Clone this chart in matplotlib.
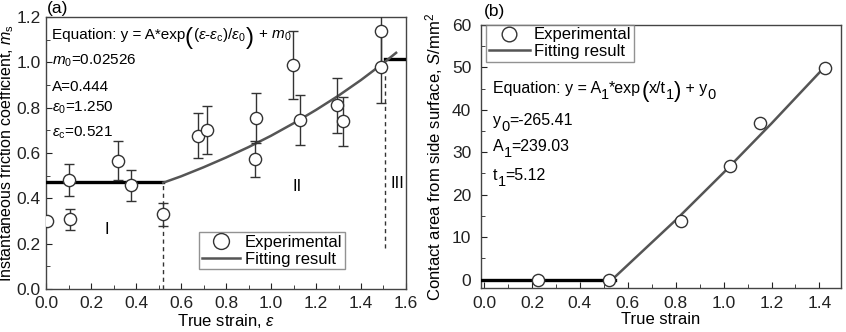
import matplotlib
matplotlib.use("Agg")
import matplotlib.pyplot as plt
from matplotlib.ticker import MultipleLocator

plt.rcParams['font.family'] = ['Liberation Sans', 'DejaVu Sans']
plt.rcParams['mathtext.fontset'] = 'custom'
plt.rcParams['mathtext.rm'] = 'Liberation Sans'
plt.rcParams['mathtext.it'] = 'Liberation Sans:italic'
plt.rcParams['mathtext.bf'] = 'Liberation Sans:bold'

# ---- panel (a) data: instantaneous friction coefficient ----
strain_a = [0.003, 0.104, 0.107, 0.321, 0.378, 0.519, 0.676, 0.717, 0.929, 0.932,
            1.096, 1.129, 1.292, 1.321, 1.49, 1.49]
ms_a = [0.302, 0.481, 0.307, 0.566, 0.458, 0.329, 0.677, 0.702, 0.573, 0.756,
        0.988, 0.744, 0.81, 0.739, 1.14, 0.98]
err_a = [0.0, 0.072, 0.046, 0.085, 0.069, 0.052, 0.1, 0.105, 0.08, 0.11,
         0.15, 0.11, 0.12, 0.11, 0.16, 0.16]

# fitted curve
fit_x_a = [0.521, 0.6, 0.7, 0.8, 0.9, 1.0, 1.1, 1.2, 1.3, 1.4, 1.5, 1.556]
fit_y_a = [0.469, 0.497, 0.537, 0.580, 0.626, 0.676, 0.731, 0.790, 0.853, 0.922, 0.997, 1.042]
stage1_x = [0.0, 0.521]
stage1_y = [0.47, 0.47]
stage3_x = [1.507, 1.6]
stage3_y = [1.013, 1.013]

# ---- panel (b) data: contact area from side surface ----
strain_b = [0.225, 0.52, 0.823, 1.025, 1.153, 1.422]
area_b = [0.0, 0.0, 13.7, 26.7, 37.0, 49.8]
fit_x_b = [0.535, 0.8, 1.0, 1.2, 1.42]
fit_y_b = [0.0, 14.0, 25.2, 36.8, 50.0]
flat_x_b = [-0.02, 0.545]
flat_y_b = [0.0, 0.0]

edge = '#333333'
fitc = '#555555'
fs = 12

fig = plt.figure(figsize=(8.46, 3.32), dpi=100)
ax1 = fig.add_axes([0.0544, 0.1295, 0.4255, 0.8193])
ax2 = fig.add_axes([0.5686, 0.1325, 0.4255, 0.7922])
renderer = fig.canvas.get_renderer()


def chain(ax, x, y, parts):
    # place text pieces one after another on a common baseline (dy in pixels)
    xd, yd = ax.transData.transform((x, y))
    inv = ax.transData.inverted()
    for s, size, dy in parts:
        px, py = inv.transform((xd, yd + dy))
        t = ax.text(px, py, s, fontsize=size, va='baseline', ha='left')
        bb = t.get_window_extent(renderer)
        xd = bb.x1


# panel (a)
ax1.plot(stage1_x, stage1_y, color='black', lw=2.4, zorder=3)
ax1.plot(stage3_x, stage3_y, color='black', lw=2.4, zorder=3)
ax1.plot(fit_x_a, fit_y_a, color=fitc, lw=1.8, zorder=3, label='Fitting result')
ax1.errorbar(strain_a, ms_a, yerr=err_a, fmt='none', ecolor=edge, elinewidth=1,
             capsize=3.3, capthick=1, zorder=4)
ax1.plot(strain_a, ms_a, 'o', ms=8.8, mfc='white', mec=edge, mew=1, zorder=5,
         label='Experimental')
ax1.plot([0.519, 0.519], [0.0, 0.47], color=edge, lw=1, dashes=(3, 2.5), zorder=2)
ax1.plot([1.507, 1.507], [0.18, 1.0], color=edge, lw=1, dashes=(3, 2.5), zorder=2)

ax1.set_xlim(0, 1.6)
ax1.set_ylim(0, 1.2)
ax1.xaxis.set_major_locator(MultipleLocator(0.2))
ax1.xaxis.set_minor_locator(MultipleLocator(0.1))
ax1.yaxis.set_major_locator(MultipleLocator(0.2))
ax1.yaxis.set_minor_locator(MultipleLocator(0.1))
ax1.set_xlabel(r'True strain, $\varepsilon$', fontsize=fs, labelpad=1)
ax1.set_ylabel(r'Instantaneous friction coefficient, $m_\mathrm{s}$', fontsize=11.5, labelpad=0.5)

chain(ax1, 0.025, 1.104, [
    ('Equation: y = A*exp', 11, 0),
    ('(', 17.5, -5),
    (r'($\varepsilon$-$\varepsilon_\mathrm{c}$)/$\varepsilon_0$', 11, 0),
    (')', 17.5, -5),
    (r' + $m_0$', 11, 0),
])
ax1.text(0.025, 0.99, r'$m_0$=0.02526', fontsize=11, va='baseline')
ax1.text(0.025, 0.873, 'A=0.444', fontsize=11, va='baseline')
ax1.text(0.025, 0.784, r'$\varepsilon_0$=1.250', fontsize=11, va='baseline')
ax1.text(0.025, 0.673, r'$\varepsilon_\mathrm{c}$=0.521', fontsize=11, va='baseline')
ax1.text(0.27, 0.262, 'I', fontsize=fs, ha='center', va='center')
ax1.text(1.115, 0.453, 'II', fontsize=fs, ha='center', va='center')
ax1.text(1.56, 0.467, 'III', fontsize=fs, ha='center', va='center')
ax1.text(0.005, 1.205, '(a)', fontsize=12.5, va='bottom', clip_on=False)

h, l = ax1.get_legend_handles_labels()
ax1.legend([h[1], h[0]], [l[1], l[0]], loc='lower left', bbox_to_anchor=(0.425, 0.073),
           fontsize=fs, frameon=True, fancybox=False, edgecolor='#777777',
           borderaxespad=0, handlelength=2.3, borderpad=0.15, labelspacing=0.1,
           handletextpad=0.3, markerscale=1.3)

# panel (b)
ax2.plot(flat_x_b, flat_y_b, color='black', lw=2.4, zorder=3)
ax2.plot(fit_x_b, fit_y_b, color=fitc, lw=1.8, zorder=3, label='Fitting result')
ax2.plot(strain_b, area_b, 'o', ms=8.8, mfc='white', mec=edge, mew=1, zorder=5,
         label='Experimental')
ax2.set_xlim(-0.0125, 1.49)
ax2.set_ylim(-2, 60)
ax2.xaxis.set_major_locator(MultipleLocator(0.2))
ax2.xaxis.set_minor_locator(MultipleLocator(0.1))
ax2.yaxis.set_major_locator(MultipleLocator(10))
ax2.yaxis.set_minor_locator(MultipleLocator(5))
ax2.set_xlabel('True strain', fontsize=fs, labelpad=1)
ax2.set_ylabel(r'Contact area from side surface, $S$/mm$^2$', fontsize=12, labelpad=5)

tf, sf, sd = 11.5, 10.5, -6
chain(ax2, 0.037, 43.9, [
    ('Equation: y = A', tf, 0),
    ('1', sf, sd),
    ('*exp', tf, 0),
    ('(', 16, -4),
    ('x/t', tf, 0),
    ('1', sf, sd),
    (')', 16, -4),
    (' + y', tf, 0),
    ('0', sf, sd),
])
chain(ax2, 0.037, 36.5, [('y', tf, 0), ('0', sf, sd), ('=-265.41', tf, 0)])
chain(ax2, 0.037, 30.2, [('A', tf, 0), ('1', sf, sd), ('=239.03', tf, 0)])
chain(ax2, 0.037, 23.5, [('t', tf, 0), ('1', sf, sd), ('=5.12', tf, 0)])
ax2.text(0.0, 61.3, '(b)', fontsize=12.5, va='bottom', clip_on=False)

h, l = ax2.get_legend_handles_labels()
ax2.legend([h[1], h[0]], [l[1], l[0]], loc='upper left', bbox_to_anchor=(0.014, 1.0),
           fontsize=fs, frameon=True, fancybox=False, edgecolor='#777777',
           borderaxespad=0, handlelength=2.5, borderpad=0.15, labelspacing=0.1,
           handletextpad=0.2, markerscale=1.2)

for ax in (ax1, ax2):
    ax.tick_params(which='both', direction='in', labelsize=12.5, top=False, right=False,
                   colors='#222222')
    ax.tick_params(which='major', length=4)
    ax.tick_params(which='minor', length=3)
    for s in ax.spines.values():
        s.set_color('#444444')
        s.set_linewidth(1)
ax1.tick_params(axis='x', which='both', pad=5)
ax1.tick_params(axis='y', which='both', pad=4)
ax2.tick_params(axis='x', which='both', pad=5.5)
ax2.tick_params(axis='y', which='both', pad=7)

fig.savefig('out.png', dpi=100)
